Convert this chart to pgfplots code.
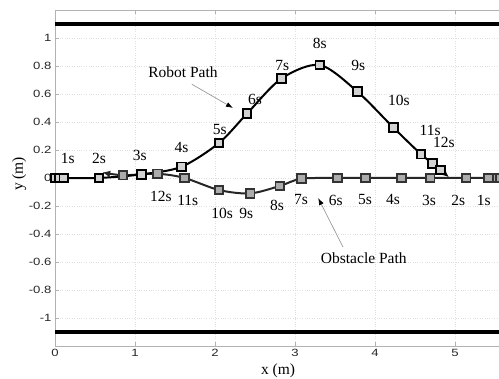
\documentclass[border=0pt]{standalone}
\usepackage{pgfplots}
\pgfplotsset{compat=1.18}
\usepackage{fontspec}
\setmainfont{Liberation Serif}
\newfontfamily\tickfont{Liberation Sans}[FakeStretch=1.25]
\usetikzlibrary{arrows.meta}

\begin{document}
\begin{tikzpicture}
\path[use as bounding box] (0,0) rectangle (499pt,379pt);
\begin{axis}[
  at={(55pt,33pt)}, anchor=south west,
  scale only axis, width=448pt, height=336pt,
  xmin=0, xmax=5.6, ymin=-1.2, ymax=1.2,
  xtick={0,1,2,3,4,5},
  ytick={-1,-0.8,-0.6,-0.4,-0.2,0,0.2,0.4,0.6,0.8,1},
  /pgf/number format/assume math mode=true,
  ticklabel style={font=\tickfont\fontsize{10.5}{12}\selectfont, text=black!85},
  grid=major,
  major grid style={gray!25, dotted},
  axis line style={gray!60, line width=0.8pt},
  tick style={gray!60},
  tick align=inside,
  major tick length=4pt,
  xlabel={x (m)}, ylabel={y (m)},
  label style={font=\fontsize{15.5}{18}\selectfont},
  xlabel style={at={(axis description cs:0.498,-0.074)}, anchor=center},
  ylabel style={at={(axis description cs:-0.08,0.512)}, anchor=center},
  clip=false,
]
% walls
\addplot[line width=3.4pt, black] coordinates {(0,1.1) (5.6,1.1)};
\addplot[line width=3.4pt, black] coordinates {(0,-1.1) (5.6,-1.1)};

% obstacle path line
\addplot[line width=2pt, black!85, smooth, -{Latex[length=8pt,width=7pt]}] coordinates {
 (5.55,0) (5.51,0) (5.46,0) (5.42,0) (5.14,0) (4.69,0) (4.33,0) (3.88,0) (3.53,0)
 (3.08,-0.005) (2.81,-0.057) (2.44,-0.11) (2.05,-0.086) (1.62,0) (1.28,0.03) (0.85,0.02) (0.59,0.04)};
% robot path line
\addplot[line width=2pt, black, smooth, -{Latex[length=8pt,width=7pt]}] coordinates {
 (0,0) (0.05,0) (0.11,0) (0.55,0) (1.08,0.026) (1.58,0.08) (2.05,0.25) (2.4,0.46)
 (2.83,0.71) (3.31,0.807) (3.78,0.617) (4.23,0.36) (4.575,0.17) (4.72,0.105) (4.82,0.057) (4.925,0.005)};

% obstacle markers
\addplot[only marks, mark=square*, mark size=4.3pt, mark options={fill=gray!65, draw=black!80, line width=1.8pt}] coordinates {
 (5.55,0) (5.51,0) (5.46,0) (5.42,0) (5.14,0) (4.69,0) (4.33,0) (3.88,0) (3.53,0)
 (3.08,-0.005) (2.81,-0.057) (2.44,-0.11) (2.05,-0.086) (1.62,0) (1.28,0.03) (0.85,0.02)};
% robot markers
\addplot[only marks, mark=square*, mark size=4.3pt, mark options={fill=gray!35, draw=black, line width=1.9pt}] coordinates {
 (0,0) (0.05,0) (0.11,0) (0.55,0) (1.08,0.026) (1.58,0.08) (2.05,0.25) (2.4,0.46)
 (2.83,0.71) (3.31,0.807) (3.78,0.617) (4.23,0.36) (4.575,0.17) (4.72,0.105) (4.82,0.057)};

% time labels
\begin{scope}[every node/.style={font=\fontsize{15.5}{18}\selectfont, inner sep=0pt}]
\node at (axis cs:0.16,0.143) {1s};
\node at (axis cs:0.55,0.143) {2s};
\node at (axis cs:1.06,0.164) {3s};
\node at (axis cs:1.58,0.22) {4s};
\node at (axis cs:2.06,0.343) {5s};
\node at (axis cs:2.5,0.564) {6s};
\node at (axis cs:2.84,0.807) {7s};
\node at (axis cs:3.31,0.964) {8s};
\node at (axis cs:3.79,0.807) {9s};
\node at (axis cs:4.30,0.557) {10s};
\node at (axis cs:4.69,0.343) {11s};
\node at (axis cs:4.86,0.257) {12s};

\node at (axis cs:1.325,-0.129) {12s};
\node at (axis cs:1.66,-0.162) {11s};
\node at (axis cs:2.09,-0.25) {10s};
\node at (axis cs:2.39,-0.25) {9s};
\node at (axis cs:2.775,-0.193) {8s};
\node at (axis cs:3.075,-0.157) {7s};
\node at (axis cs:3.51,-0.157) {6s};
\node at (axis cs:3.875,-0.157) {5s};
\node at (axis cs:4.225,-0.157) {4s};
\node at (axis cs:4.675,-0.157) {3s};
\node at (axis cs:5.04,-0.157) {2s};
\node at (axis cs:5.36,-0.157) {1s};

\node at (axis cs:1.6,0.757) {Robot Path};
\node at (axis cs:3.86,-0.571) {Obstacle Path};
\end{scope}
\draw[gray!80, line width=0.7pt, -{Latex[length=7pt,width=5pt,black]}] (axis cs:1.71,0.67) -- (axis cs:2.225,0.5);
\draw[gray!80, line width=0.7pt, -{Latex[length=7pt,width=5pt,black]}] (axis cs:3.6,-0.493) -- (axis cs:3.29,-0.143);
\end{axis}
\end{tikzpicture}
\end{document}
